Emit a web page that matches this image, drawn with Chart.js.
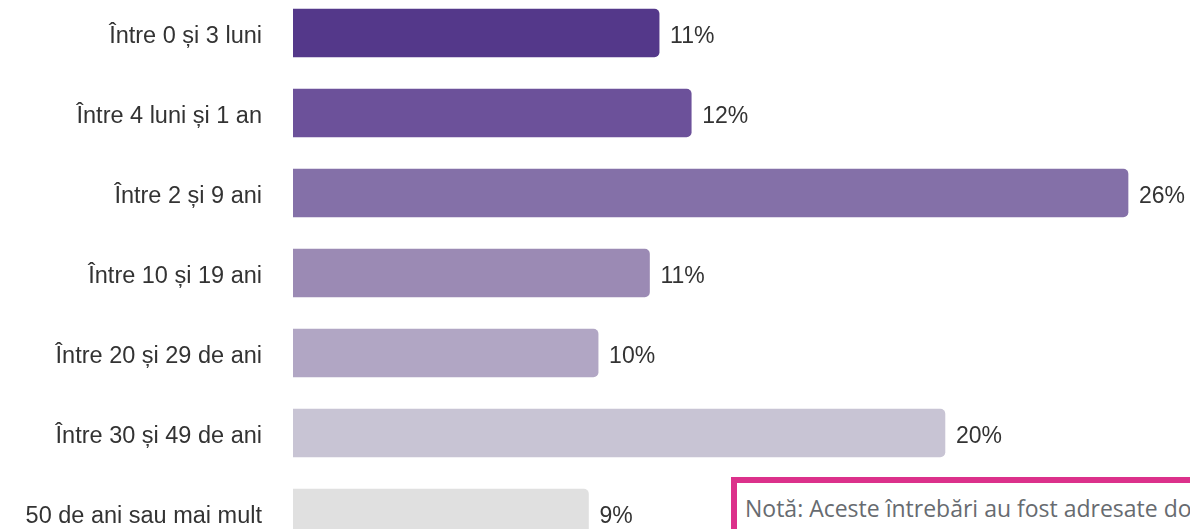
<!DOCTYPE html>
<html>
<head>
<meta charset="utf-8">
<script src="https://cdn.jsdelivr.net/npm/chart.js@4"></script>
<style>
  html, body { margin: 0; padding: 0; background: #fff; overflow: hidden; width: 1190px; height: 529px; }
  #wrap { position: absolute; left: 0; top: -7px; width: 1190px; height: 560px; }
  #note {
    position: absolute; left: 731px; top: 477px; width: 700px; height: 80px;
    border: 6px solid #dc318b; box-sizing: border-box;
    padding: 9px 0 0 8px;
    font-family: "Open Sans", sans-serif; font-size: 23px; color: #676b70;
    white-space: nowrap; background: #fff;
  }
</style>
</head>
<body>
<div id="wrap"><canvas id="myChart"></canvas></div>
<div id="note">Notă: Aceste întrebări au fost adresate doar</div>
<script>
const categories = [
    'Între 0 și 3 luni',
    'Între 4 luni și 1 an',
    'Între 2 și 9 ani',
    'Între 10 și 19 ani',
    'Între 20 și 29 de ani',
    'Între 30 și 49 de ani',
    '50 de ani sau mai mult'
];
const shares = [11.4, 12.4, 26.0, 11.1, 9.5, 20.3, 9.2];
const shareLabels = ['11%', '12%', '26%', '11%', '10%', '20%', '9%'];
const barColors = ['#54388a', '#6c519a', '#8470a8', '#9b8ab4', '#b1a6c4', '#c8c4d4', '#e0e0e0'];

// writes the percentage after each bar
const valueLabels = {
    id: 'valueLabels',
    afterDatasetsDraw(chart) {
        const ctx = chart.ctx;
        const meta = chart.getDatasetMeta(0);
        ctx.save();
        ctx.font = '23px "Liberation Sans", Arial, sans-serif';
        ctx.fillStyle = '#333';
        ctx.textAlign = 'left';
        ctx.textBaseline = 'middle';
        meta.data.forEach((bar, i) => {
            ctx.fillText(shareLabels[i], bar.x + 11, bar.y + 4);
        });
        ctx.restore();
    }
};

const ctx = document.getElementById('myChart');
new Chart(ctx, {
    type: 'bar',
    data: {
        labels: categories,
        datasets: [{
            data: shares,
            backgroundColor: barColors,
            borderRadius: 5,
            barThickness: 48
        }]
    },
    options: {
        indexAxis: 'y',
        responsive: true,
        maintainAspectRatio: false,
        animation: false,
        layout: { padding: 0 },
        plugins: {
            legend: { display: false },
            tooltip: { enabled: false }
        },
        scales: {
            x: {
                display: false,
                min: 0,
                max: 27.93
            },
            y: {
                grid: { display: false, drawTicks: false },
                border: { display: false },
                afterFit(scale) {
                    scale.width = 293;
                    scale.paddingTop = 0;
                    scale.paddingBottom = 0;
                },
                ticks: {
                    padding: 31,
                    labelOffset: 4,
                    color: '#333',
                    font: { family: '"Liberation Sans", Arial, sans-serif', size: 23.5 }
                }
            }
        }
    },
    plugins: [valueLabels]
});
</script>
</body>
</html>
